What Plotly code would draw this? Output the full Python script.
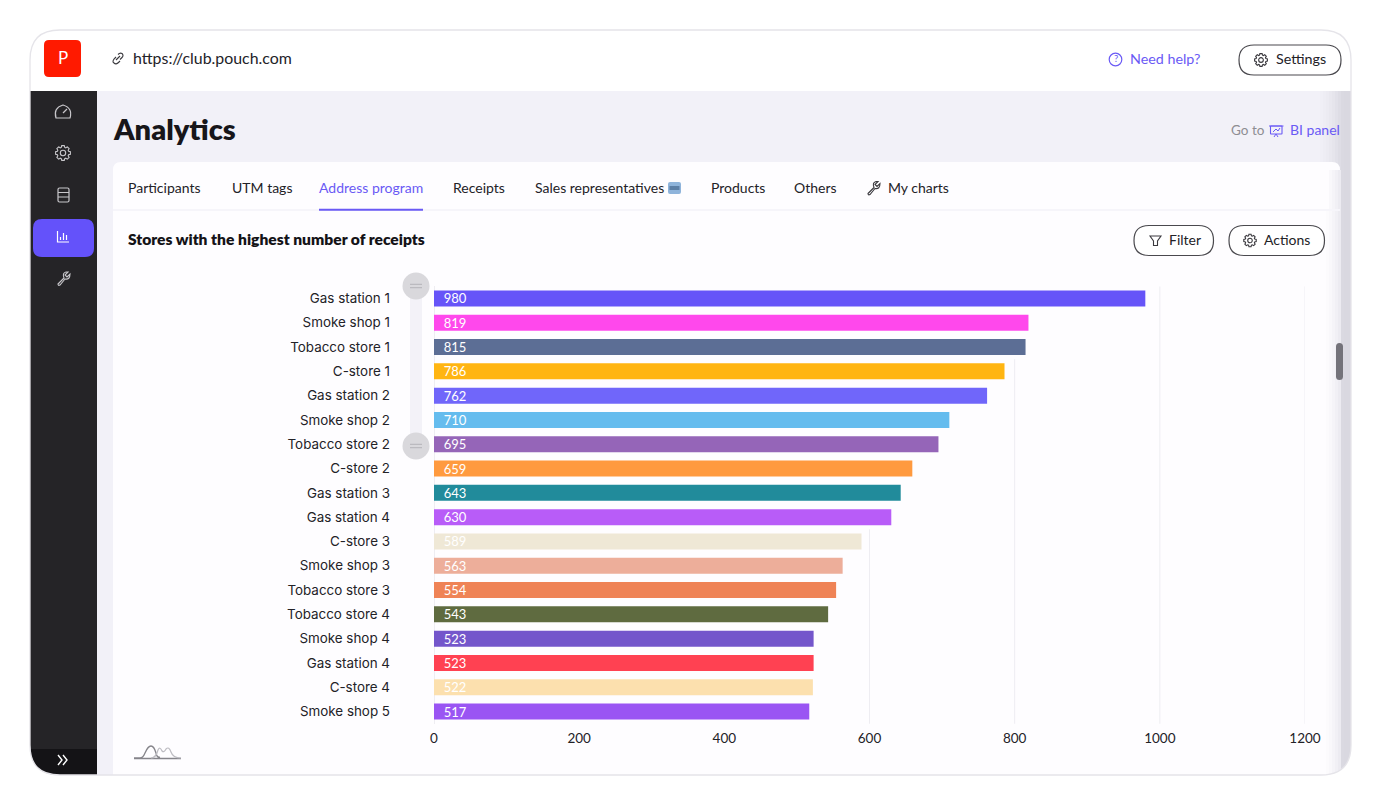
import math
import re
import plotly.graph_objects as go

W, H = 1380, 810

# DATA
stores = ["Gas station 1", "Smoke shop 1", "Tobacco store 1", "C-store 1", "Gas station 2", "Smoke shop 2",
          "Tobacco store 2", "C-store 2", "Gas station 3", "Gas station 4", "C-store 3", "Smoke shop 3",
          "Tobacco store 3", "Tobacco store 4", "Smoke shop 4", "Gas station 4", "C-store 4", "Smoke shop 5"]
receipts = [980, 819, 815, 786, 762, 710, 695, 659, 643, 630, 589, 563, 554, 543, 523, 523, 522, 517]
bar_colors = ["#6654F8", "#FF48EC", "#5C6E95", "#FFB512", "#7066FA", "#65BCEE", "#9565B8", "#FF9A3F", "#218B9B",
              "#B85CF8", "#EFE8D6", "#EDAE9A", "#EF8356", "#5F6B40", "#7456CB", "#FF4152", "#FCE0AE", "#9A55F3"]
x_ticks = [0, 200, 400, 600, 800, 1000, 1200]

UI_FONT = "Lato"
LABEL_FONT = "Inter"
PURPLE = "#6A5AF5"
INK = "#232227"

shapes = []
notes = []


# helpers, all of them take pixels of the 1380x810 page
def fx(x):
    return x / W


def fy(y):
    return 1 - y / H


def to_paper(d):
    out = []
    i = 0
    for tok in re.findall(r"[MLQCZ]|-?[\d.]+", d):
        if tok in "MLQCZ":
            out.append(tok)
        else:
            out.append(f"{fx(float(tok)):.5f}" if i % 2 == 0 else f"{fy(float(tok)):.5f}")
            i += 1
    return " ".join(out)


def add_path(d, fill=None, line=None, width=1.2):
    shapes.append(dict(type="path", path=to_paper(d), xref="paper", yref="paper", layer="below",
                       fillcolor=fill or "rgba(0,0,0,0)",
                       line=dict(color=line or "rgba(0,0,0,0)", width=width if line else 0)))


def rect(x0, y0, x1, y1, fill):
    shapes.append(dict(type="rect", x0=fx(x0), x1=fx(x1), y0=fy(y0), y1=fy(y1), xref="paper", yref="paper",
                       layer="below", fillcolor=fill, line=dict(width=0)))


def round_rect(x0, y0, x1, y1, r, fill=None, line=None, width=1.2):
    d = (f"M {x0+r} {y0} L {x1-r} {y0} Q {x1} {y0} {x1} {y0+r} L {x1} {y1-r} Q {x1} {y1} {x1-r} {y1} "
         f"L {x0+r} {y1} Q {x0} {y1} {x0} {y1-r} L {x0} {y0+r} Q {x0} {y0} {x0+r} {y0} Z")
    add_path(d, fill, line, width)


def circle(cx, cy, r, fill=None, line=None, width=1.2):
    shapes.append(dict(type="circle", x0=fx(cx-r), x1=fx(cx+r), y0=fy(cy-r), y1=fy(cy+r), xref="paper", yref="paper",
                       layer="below", fillcolor=fill or "rgba(0,0,0,0)",
                       line=dict(color=line or "rgba(0,0,0,0)", width=width if line else 0)))


def label(x, y, text, size=14, color=INK, font=UI_FONT, anchor="left", weight=400):
    # annotations sit about 1.5px right and 0.7px low of the asked spot
    dx = -1.5 if anchor == "left" else 0
    notes.append(dict(x=fx(x + dx), y=fy(y - 0.7), xref="paper", yref="paper", text=text, showarrow=False,
                      xanchor=anchor, yanchor="middle", borderpad=0,
                      font=dict(size=size, color=color, family=font, weight=weight)))


def gear(cx, cy, r, color, width=1.1):
    pts = []
    for k in range(8):
        a = k * math.pi / 4
        for da, rr in [(-0.30, 0.78), (-0.17, 1.0), (0.17, 1.0), (0.30, 0.78)]:
            pts.append((cx + rr * r * math.cos(a + da), cy + rr * r * math.sin(a + da)))
    d = "M " + " L ".join(f"{px:.2f} {py:.2f}" for px, py in pts) + " Z"
    add_path(d, None, color, width)
    circle(cx, cy, r * 0.36, None, color, width)


def wrench(cx, cy, color):
    add_path(f"M {cx-5} {cy+6} L {cx+1} {cy} Q {cx-1} {cy-5} {cx+3} {cy-6} L {cx+5} {cy-6} L {cx+2} {cy-3} "
             f"L {cx+4} {cy-1} L {cx+7} {cy-4} Q {cx+7} {cy+2} {cx+2} {cy+1} L {cx-3} {cy+7} Q {cx-5} {cy+8} {cx-5} {cy+6} Z",
             None, color, 1.1)


# page frame
rect(30, 30, 1351, 91, "#FFFFFF")
rect(97, 91, 1351, 775, "#F2F1F8")
for i, c in enumerate(["#F0EFF6", "#EEEDF4", "#ECEBF2", "#E9E8EF", "#E6E5EC", "#E2E1E9", "#DEDDE5", "#DAD9E1"]):
    rect(1320 + i * 3, 91, 1323 + i * 3, 775, c)
rect(1344, 91, 1351, 775, "#D9D8E0")
rect(30, 91, 97, 775, "#252427")
rect(30, 749, 97, 775, "#141316")

# card
add_path("M 121 162 L 1332 162 Q 1340 162 1340 170 L 1340 775 L 113 775 L 113 170 Q 113 162 121 162 Z", "#FEFDFF")
for i, c in enumerate(["#FCFBFD", "#F9F8FB", "#F5F4F8", "#F1F0F5", "#ECEBF1"]):
    rect(1326 + i * 3, 210 if i == 0 else 170, 1329 + i * 3, 775, c)
rect(113, 209, 1340, 211, "#F6F5FA")

# corners of the frame, masked in white and then outlined
R = 30
add_path(f"M 29 29 L {30+R} 29 L {30+R} 30 Q 30 30 30 {30+R} L 29 {30+R} Z", "#FFFFFF")
add_path(f"M 1352 29 L {1351-R} 29 L {1351-R} 30 Q 1351 30 1351 {30+R} L 1352 {30+R} Z", "#FFFFFF")
add_path(f"M 29 776 L {30+R} 776 L {30+R} 775 Q 30 775 30 {775-R} L 29 {775-R} Z", "#FFFFFF")
add_path(f"M 1352 776 L {1351-R} 776 L {1351-R} 775 Q 1351 775 1351 {775-R} L 1352 {775-R} Z", "#FFFFFF")
round_rect(30, 30, 1351, 775, R, None, "#E5E4E9", 1.3)

# header
round_rect(44, 40, 81, 77, 5, "#FF1A00")
label(62.5, 58.5, "P", 17, "#FFFFFF", UI_FONT, "center")
add_path("M 116 57 L 114 59 Q 112 62 114 63 Q 116 65 118.5 62.5 L 120 61 M 116 60 L 120 56 M 118 54.5 Q 120 52.5 122 53.5 Q 124 55.5 122 57.5 L 120 59.5",
         None, "#3A393E", 1.1)
label(133, 58, "https://club.pouch.com", 15.9, INK)
circle(1115.5, 59.5, 6.3, None, PURPLE, 1.2)
label(1115.5, 59.5, "?", 9.5, PURPLE, UI_FONT, "center")
label(1130, 59, "Need help?", 14.3, PURPLE)
round_rect(1239, 45, 1341, 75, 15, "#FFFFFF", "#4A494E", 1.2)
gear(1261, 60, 6.5, "#3A393E")
label(1276, 59.5, "Settings", 14.3, INK)

# sidebar
round_rect(33, 219, 94, 257, 9, "#6452FA")
add_path("M 56 118 Q 53 108 63 105 Q 73 108 70 118 Z", None, "#C8C7CB", 1.2)
add_path("M 63 113 L 67 109", None, "#C8C7CB", 1.2)
gear(63, 153, 7.5, "#C8C7CB")
round_rect(58, 188, 69, 202, 1.5, None, "#C8C7CB", 1.2)
add_path("M 58 192.5 L 69 192.5 M 58 197 L 69 197", None, "#C8C7CB", 1.2)
add_path("M 57.5 231 L 57.5 242 L 69 242 M 60.5 240 L 60.5 237 M 63.5 240 L 63.5 233 M 66.5 240 L 66.5 235",
         None, "#FFFFFF", 1.2)
wrench(63, 278, "#C8C7CB")
add_path("M 58 755 L 62 760 L 58 765 M 63 755 L 67 760 L 63 765", None, "#FFFFFF", 1.4)

# page title and tabs
label(113, 129, "Analytics", 29, "#17161A", UI_FONT, weight=800)
label(1231, 130.5, "Go to", 13.5, "#8E8D93")
round_rect(1270.5, 126, 1282, 134, 0.5, None, PURPLE, 1.1)
add_path("M 1269 126 L 1283.5 126 M 1273 132 L 1276 129 L 1278 131 L 1280 128 M 1276 134 L 1274 137 M 1276 134 L 1278 137",
         None, PURPLE, 1)
label(1290, 130.5, "BI panel", 14, PURPLE)

for x, name, col in [(128.5, "Participants", INK), (232, "UTM tags", INK), (319, "Address program", PURPLE),
                     (453, "Receipts", INK), (535, "Sales representatives", INK), (711, "Products", INK),
                     (795, "Others", INK), (888, "My charts", INK)]:
    label(x, 188, name, 14, col)
rect(319, 208.7, 423, 210.7, PURPLE)
round_rect(668, 182, 681, 194, 2, "#8FB4DB")
rect(669.5, 186, 679.5, 190, "#5C7FA6")
wrench(873, 187.5, "#3A393E")

label(128.5, 240, "Stores with the highest number of receipts", 15.6, "#141317", UI_FONT, weight=800)
round_rect(1134, 225.5, 1213.5, 255.5, 15, "#FFFFFF", "#4A494E", 1.2)
add_path("M 1150 236 L 1161 236 L 1157.5 241 L 1157.5 245.5 L 1153.5 245.5 L 1153.5 241 Z", None, "#3A393E", 1.1)
label(1169, 240, "Filter", 14, INK)
round_rect(1229, 225.5, 1324.5, 255.5, 15, "#FFFFFF", "#4A494E", 1.2)
gear(1250, 240.5, 6.3, "#3A393E")
label(1264, 240, "Actions", 14, INK)

# scrollbar and zoom slider of the chart
round_rect(1336, 343, 1343, 380, 3.5, "#74737A")
rect(410, 286, 422, 446, "#F3F2F8")
for cy in [286, 446]:
    circle(416, cy, 13.5, "#D9D8DC")
    rect(410, cy - 2.2, 422, cy - 1.2, "#B4B3B8")
    rect(410, cy + 1.2, 422, cy + 2.2, "#B4B3B8")

# small mark in the bottom corner
add_path("M 134 758 L 140 758 Q 143 758 145 753 Q 148 746 151 746 Q 154 746 156 753 Q 157 758 160 757 M 134 758.5 L 181 758.5",
         None, "#85848A", 1.3)
add_path("M 151 758 Q 156 758 158 750 Q 160 746 162 751 Q 164 753 166 749 Q 169 746 171 752 Q 173 758 181 758",
         None, "#BDBCC2", 1.2)

# the grid only shows past the end of the bars in the reference
for tick in x_ticks[1:]:
    rows = [i for i, v in enumerate(receipts) if v < tick]
    if tick <= min(receipts):
        continue
    shapes.append(dict(type="line", xref="x", yref="y", layer="below", x0=tick, x1=tick,
                       y0=rows[0] - 0.5, y1=len(stores) - 0.5 + 0.1, line=dict(color="#EEEDF2", width=1)))

fig = go.Figure(go.Bar(
    y=list(range(len(stores))),
    x=receipts,
    orientation="h",
    marker=dict(color=bar_colors, line=dict(width=0)),
    text=["\u00a0\u00a0" + str(v) for v in receipts],
    textposition="inside",
    insidetextanchor="start",
    textangle=0,
    constraintext="none",
    insidetextfont=dict(color="#FFFFFF", size=13, family=UI_FONT),
    cliponaxis=False,
    hoverinfo="skip",
))

fig.update_layout(
    width=W,
    height=H,
    margin=dict(l=0, r=0, t=0, b=0, pad=0),
    paper_bgcolor="#FFFFFF",
    plot_bgcolor="rgba(0,0,0,0)",
    showlegend=False,
    bargap=0.34,
    shapes=shapes,
    annotations=notes,
    xaxis=dict(domain=[fx(434), fx(1305)], range=[0, 1200], tickvals=x_ticks, ticktext=[str(v) for v in x_ticks],
               automargin=False, showgrid=False, zeroline=True,
               zerolinecolor="#EEEDF2", zerolinewidth=1, showline=False, ticks="", ticklabelstandoff=5,
               tickfont=dict(size=13.5, color=INK, family=UI_FONT)),
    yaxis=dict(domain=[fy(723.7), fy(286.3)], range=[len(stores) - 0.5, -0.5], tickvals=list(range(len(stores))),
               ticktext=stores, automargin=False, showgrid=False, zeroline=False, showline=False, ticks="",
               ticklabelstandoff=43, tickfont=dict(size=13.4, color=INK, family=LABEL_FONT)),
)

fig.write_html("out.html", config={"displayModeBar": False}, post_script="document.body.style.margin='0';")
